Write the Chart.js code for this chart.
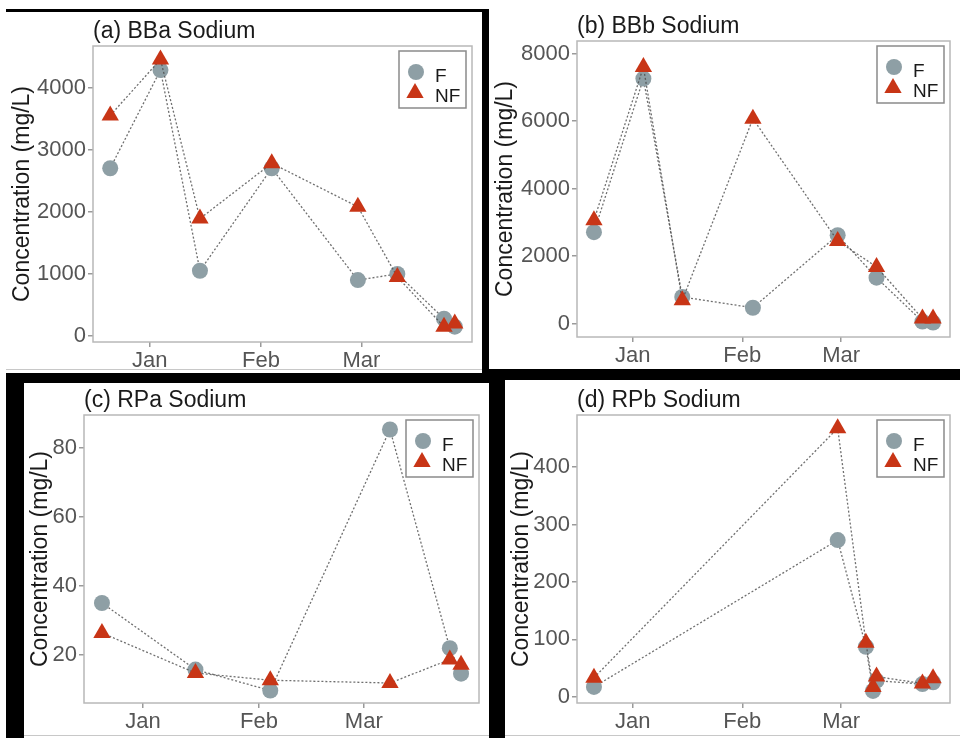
<!DOCTYPE html>
<html>
<head>
<meta charset="utf-8">
<script src="https://cdn.jsdelivr.net/npm/chart.js"></script>
<style>
  body { margin: 0; background: #fff; }
  #page { position: relative; width: 960px; height: 738px; overflow: hidden; background: #fff; }
  canvas { position: absolute; }
  .bar { position: absolute; background: #000; }
  .edge { position: absolute; background: #c8c8c8; }
</style>
</head>
<body>
<div id="page">
  <canvas id="chartA" width="476" height="361" style="left:6px;top:12px"></canvas>
  <canvas id="chartB" width="471" height="369" style="left:489px;top:0px"></canvas>
  <canvas id="chartC" width="465" height="352" style="left:24px;top:383px"></canvas>
  <canvas id="chartD" width="455" height="355" style="left:505px;top:380px"></canvas>

  <!-- black frame around the panels -->
  <div class="edge" style="left:6px;top:369px;width:476px;height:1px"></div>
  <div class="edge" style="left:24px;top:735px;width:465px;height:1px"></div>
  <div class="edge" style="left:505px;top:735px;width:455px;height:1px"></div>
  <div class="bar" style="left:6px;top:9px;width:483px;height:3px"></div>
  <div class="bar" style="left:482px;top:9px;width:7px;height:374px"></div>
  <div class="bar" style="left:6px;top:373px;width:483px;height:10px"></div>
  <div class="bar" style="left:489px;top:369px;width:471px;height:11px"></div>
  <div class="bar" style="left:6px;top:373px;width:18px;height:365px"></div>
  <div class="bar" style="left:489px;top:373px;width:16px;height:365px"></div>
</div>
<script>
// x axis: days from 1 Jan (negative = December)
var monthDays = [0, 31, 59];
var monthLabels = ['Jan', 'Feb', 'Mar'];
var xMin = -15.8, xMax = 89.8;

// (a) BBa Sodium
var daysA = [-11, 3, 14, 34, 58, 69, 82, 85];
var fA = [2700, 4280, 1050, 2700, 900, 1000, 280, 150];
var nfA = [3550, 4450, 1890, 2780, 2080, 950, 150, 200];
var ticksA = [0, 1000, 2000, 3000, 4000];

// (b) BBb Sodium
var daysB = [-11, 3, 14, 34, 58, 69, 82, 85];
var fB = [2710, 7260, 790, 470, 2620, 1360, 60, 30];
var nfB = [3060, 7600, 690, 6070, 2450, 1680, 150, 150];
var ticksB = [0, 2000, 4000, 6000, 8000];

// (c) RPa Sodium
var daysC = [-11, 14, 34, 66, 82, 85];
var fC = [35, 15.7, 9.6, 85.3, 21.9, 14.5];
var nfC = [26.3, 14.7, 12.6, 11.8, 18.6, 17.1];
var ticksC = [20, 40, 60, 80];

// (d) RPb Sodium
var daysD = [-11, 58, 66, 68, 69, 82, 85];
var fD = [17, 273, 87, 10, 28, 22, 25];
var nfD = [33, 468, 94, 17, 35, 23, 32];
var ticksD = [0, 100, 200, 300, 400];

var colF = '#8e9fa5';
var colNF = '#c83516';
var lineCol = 'rgba(75, 75, 75, 0.8)';
var fontFamily = '"Liberation Sans", Arial, sans-serif';

Chart.defaults.font.family = fontFamily;

// panel border, title at the panel's left edge and the legend box inside the panel
var panelDecor = {
    id: 'panelDecor',
    afterDraw: function (chart, args, opts) {
        var ctx = chart.ctx;
        var a = chart.chartArea;
        ctx.save();
        ctx.strokeStyle = '#b8b8b8';
        ctx.lineWidth = 1.5;
        ctx.strokeRect(a.left, a.top, a.right - a.left, a.bottom - a.top);

        ctx.fillStyle = '#1a1a1a';
        ctx.font = '23px ' + fontFamily;
        ctx.textBaseline = 'alphabetic';
        ctx.textAlign = 'left';
        ctx.fillText(opts.title, a.left, a.top - 8.5);

        var bx = a.right - 6 - 67, by = a.top + 5;
        ctx.fillStyle = '#fff';
        ctx.fillRect(bx, by, 67, 57);
        ctx.strokeStyle = '#8a8a8a';
        ctx.lineWidth = 1.5;
        ctx.strokeRect(bx, by, 67, 57);

        var ds = chart.data.datasets;
        ctx.fillStyle = ds[0].pointBackgroundColor;
        ctx.beginPath();
        ctx.arc(bx + 17, by + 21, 8, 0, Math.PI * 2);
        ctx.fill();

        ctx.fillStyle = ds[1].pointBackgroundColor;
        var tx = bx + 16, ty = by + 42, r = 10;
        ctx.beginPath();
        ctx.moveTo(tx, ty - r);
        ctx.lineTo(tx + r * 0.866, ty + r / 2);
        ctx.lineTo(tx - r * 0.866, ty + r / 2);
        ctx.closePath();
        ctx.fill();

        ctx.fillStyle = '#1a1a1a';
        ctx.font = '19px ' + fontFamily;
        ctx.fillText(ds[0].label, bx + 36, by + 31);
        ctx.fillText(ds[1].label, bx + 36, by + 51);
        ctx.restore();
    }
};

function toPoints(days, vals) {
    return days.map(function (d, i) { return { x: d, y: vals[i] }; });
}

function makePanel(id, title, days, f, nf, yMin, yMax, yTicks, box) {
    var ctx = document.getElementById(id).getContext('2d');
    return new Chart(ctx, {
        type: 'line',
        plugins: [panelDecor],
        data: {
            datasets: [{
                label: 'F',
                data: toPoints(days, f),
                borderColor: lineCol,
                borderWidth: 1.3,
                borderDash: [2, 2],
                pointStyle: 'circle',
                pointRadius: 8,
                pointBorderWidth: 0,
                pointBackgroundColor: colF,
                pointBorderColor: colF,
                order: 2
            }, {
                label: 'NF',
                data: toPoints(days, nf),
                borderColor: lineCol,
                borderWidth: 1.3,
                borderDash: [2, 2],
                pointStyle: 'triangle',
                pointRadius: 10,
                pointBorderWidth: 0,
                pointBackgroundColor: colNF,
                pointBorderColor: colNF,
                order: 1
            }]
        },
        options: {
            responsive: false,
            animation: false,
            events: [],
            layout: { padding: { left: 0, top: box.padTop, right: box.padRight, bottom: 0 } },
            plugins: {
                legend: { display: false },
                tooltip: { enabled: false },
                panelDecor: { title: title }
            },
            scales: {
                x: {
                    type: 'linear',
                    min: xMin,
                    max: xMax,
                    afterBuildTicks: function (s) { s.ticks = monthDays.map(function (v) { return { value: v }; }); },
                    afterFit: function (s) { s.height = box.xHeight; },
                    ticks: {
                        color: '#555',
                        font: { size: 22 },
                        padding: 1,
                        maxRotation: 0,
                        callback: function (v, i) { return monthLabels[i]; }
                    },
                    grid: { display: true, drawOnChartArea: false, drawTicks: true, tickLength: 5, color: '#9a9a9a', lineWidth: 1.5 },
                    border: { display: false }
                },
                y: {
                    type: 'linear',
                    min: yMin,
                    max: yMax,
                    afterBuildTicks: function (s) { s.ticks = yTicks.map(function (v) { return { value: v }; }); },
                    afterFit: function (s) { s.width = box.yWidth; },
                    title: {
                        display: true,
                        text: 'Concentration (mg/L)',
                        color: '#1a1a1a',
                        font: { size: 23 },
                        padding: { top: 3, bottom: 0 }
                    },
                    ticks: {
                        color: '#555',
                        font: { size: 22 },
                        padding: 2,
                        callback: function (v) { return String(v); }
                    },
                    grid: { display: true, drawOnChartArea: false, drawTicks: true, tickLength: 5, color: '#9a9a9a', lineWidth: 1.5 },
                    border: { display: false }
                }
            }
        }
    });
}

makePanel('chartA', '(a) BBa Sodium', daysA, fA, nfA, -96, 4667, ticksA, { padTop: 34, padRight: 5, yWidth: 87, xHeight: 31 });
makePanel('chartB', '(b) BBb Sodium', daysB, fB, nfB, -397, 8373, ticksB, { padTop: 41, padRight: 0, yWidth: 88, xHeight: 32 });
makePanel('chartC', '(c) RPa Sodium', daysC, fC, nfC, 6.0, 89.5, ticksC, { padTop: 32, padRight: 6, yWidth: 60, xHeight: 32 });
makePanel('chartD', '(d) RPb Sodium', daysD, fD, nfD, -11, 491, ticksD, { padTop: 35, padRight: 0, yWidth: 72, xHeight: 32 });
</script>
</body>
</html>
